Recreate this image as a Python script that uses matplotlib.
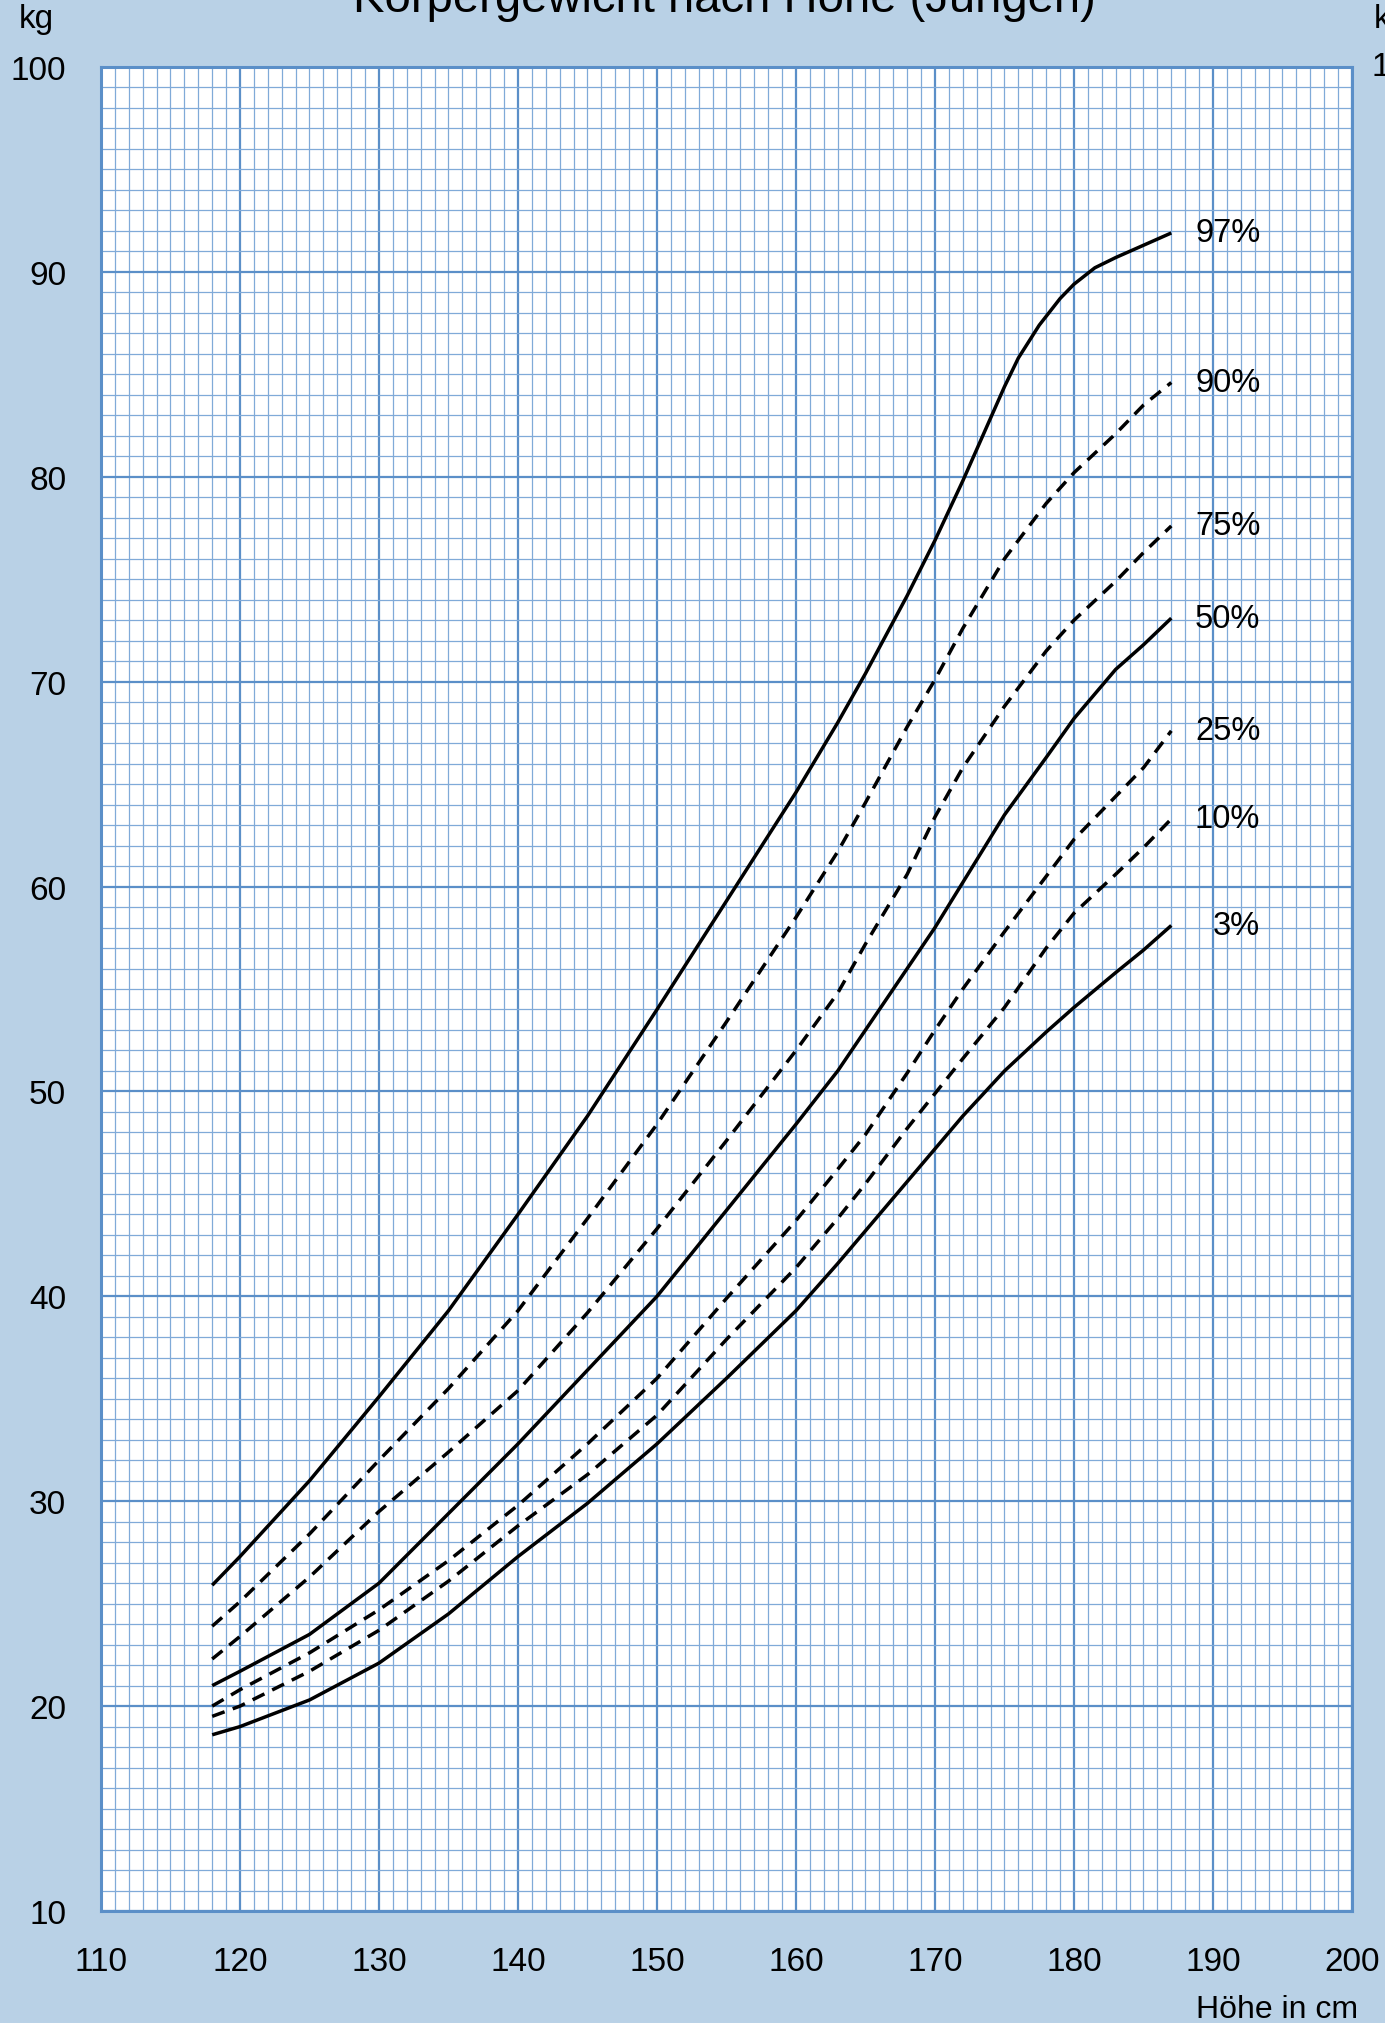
#!/usr/bin/env python
''' Körpergewicht nach Höhe (Jungen) - Perzentilkurven '''
import matplotlib
matplotlib.use('Agg')
import matplotlib.pyplot as plt
from matplotlib.ticker import MultipleLocator

HEIGHTS = [118, 120, 125, 130, 135, 140, 145, 150, 155, 160, 163, 165,
           168, 170, 172, 175, 178, 180, 183, 185, 187]
HEIGHTS_97 = [118, 120, 125, 130, 135, 140, 145, 150, 155, 160, 163, 165,
              168, 170, 172, 173.5, 175, 176, 177.5, 179, 180, 181.5, 183,
              185, 187]

P97 = [25.9, 27.3, 31.0, 35.1, 39.3, 44.0, 48.8, 54.0, 59.3, 64.6, 68.0, 70.4,
       74.2, 76.9, 79.8, 82.1, 84.4, 85.8, 87.4, 88.7, 89.4, 90.2, 90.7,
       91.3, 91.9]
P90 = [23.9, 25.1, 28.4, 32.0, 35.5, 39.3, 43.8, 48.4, 53.4, 58.5, 61.7, 64.1,
       67.8, 70.1, 72.6, 76.0, 78.7, 80.2, 82.1, 83.5, 84.6]
P75 = [22.3, 23.4, 26.3, 29.5, 32.4, 35.4, 39.2, 43.3, 47.6, 52.0, 54.8, 57.2,
       60.6, 63.4, 65.8, 68.8, 71.5, 73.0, 74.9, 76.3, 77.6]
P50 = [21.0, 21.7, 23.5, 26.0, 29.4, 32.8, 36.4, 40.0, 44.2, 48.4, 51.0, 53.0,
       56.0, 58.0, 60.2, 63.5, 66.3, 68.2, 70.6, 71.8, 73.1]
P25 = [20.0, 20.8, 22.6, 24.7, 27.1, 29.8, 32.8, 36.0, 39.9, 43.7, 46.2, 47.9,
       50.9, 53.0, 55.0, 57.8, 60.5, 62.3, 64.4, 65.8, 67.6]
P10 = [19.5, 20.0, 21.7, 23.7, 26.1, 28.8, 31.3, 34.2, 37.9, 41.4, 43.8, 45.5,
       48.2, 49.9, 51.6, 54.1, 57.0, 58.7, 60.6, 61.9, 63.3]
P03 = [18.6, 19.0, 20.3, 22.1, 24.5, 27.3, 29.9, 32.8, 36.0, 39.3, 41.6, 43.2,
       45.6, 47.2, 48.8, 51.0, 52.9, 54.1, 55.8, 56.9, 58.1]

LABELS = ['97%', '90%', '75%', '50%', '25%', '10%', '3%']
DASHED = [False, True, True, False, True, True, False]

BG = '#b9d1e6'
MAJOR = '#5b8fc8'
MINOR = '#80aad8'
FONT = 'Liberation Sans'

plt.rcParams['font.family'] = [FONT, 'DejaVu Sans']

W, H = 1385, 2024
fig = plt.figure(figsize=(W / 100, H / 100), dpi=100, facecolor=BG)
ax = fig.add_axes([101 / W, (H - 1912) / H, (1352 - 101) / W, (1912 - 68) / H])
ax.set_facecolor('white')

ax.set_xlim(110, 200)
ax.set_ylim(10, 100)
ax.xaxis.set_major_locator(MultipleLocator(10))
ax.yaxis.set_major_locator(MultipleLocator(10))
ax.xaxis.set_minor_locator(MultipleLocator(1))
ax.yaxis.set_minor_locator(MultipleLocator(1))
ax.grid(which='minor', color=MINOR, linewidth=0.9)
ax.grid(which='major', color=MAJOR, linewidth=1.6)
ax.set_axisbelow(True)
for s in ax.spines.values():
    s.set_color(MAJOR)
    s.set_linewidth(2.2)
ax.tick_params(which='both', length=0, labelsize=24)
ax.tick_params(axis='x', pad=25)
ax.tick_params(axis='y', pad=25)

series = [P97, P90, P75, P50, P25, P10, P03]
for vals, lab, dashed in zip(series, LABELS, DASHED):
    xs = HEIGHTS_97 if lab == '97%' else HEIGHTS
    line, = ax.plot(xs, vals, color='black', linewidth=2.5,
                    solid_joinstyle='round', solid_capstyle='butt')
    if dashed:
        line.set_dashes((3.8, 2.5))
    ax.text(193.4, vals[-1], lab, ha='right', va='center', fontsize=23.5)

fig.text(724 / W, 1 - 12 / H, 'Körpergewicht nach Höhe (Jungen)',
         ha='center', va='baseline', fontsize=34)
fig.text(19 / W, 1 - 28 / H, 'kg', ha='left', va='baseline', fontsize=24)
fig.text(1374 / W, 1 - 28 / H, 'kg', ha='left', va='baseline', fontsize=24)
fig.text(1372 / W, 1 - 68 / H, '100', ha='left', va='center', fontsize=24)
fig.text(1358 / W, 6 / H, 'Höhe in cm', ha='right', va='baseline', fontsize=23)

plt.savefig('out.png', dpi=100, facecolor=BG)
